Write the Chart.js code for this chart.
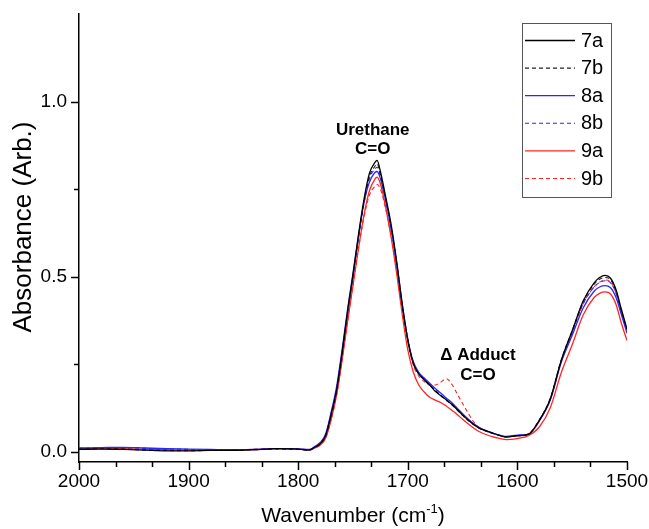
<!DOCTYPE html>
<html>
<head>
<meta charset="utf-8">
<script src="https://cdn.jsdelivr.net/npm/chart.js@4.4.0/dist/chart.umd.min.js"></script>
<style>
  html, body { margin: 0; padding: 0; background: #fff; }
  #wrap { width: 649px; height: 529px; position: relative; }
</style>
</head>
<body>
<div id="wrap"><canvas id="canvas"></canvas></div>
<script>
// spectra (absorbance vs wavenumber)
var wavenumbers = [2000,1980,1960,1940,1920,1900,1880,1860,1840,1820,1800,1790,
  1785,1780,1775,1770,1765,1760,1755,1750,1745,1740,1735,1730,1728,1725,1720,1715,1710,1705,1700,1695,1690,1685,1680,1675,1670,1665,1660,1655,1650,1645,1640,1635,1630,
  1620,1610,1600,1590,1580,1570,1560,1550,1540,1530,
  1525,1520,1515,1510,1505,1500];

var s7a = [0.006,0.007,0.006,0.004,0.002,0.002,0.003,0.003,0.005,0.008,0.007,0.004,
  0.012,0.022,0.045,0.105,0.175,0.28,0.40,0.505,0.62,0.72,0.795,0.826,0.832,0.80,0.725,0.645,0.54,0.42,0.32,0.252,0.222,0.205,0.19,0.172,0.16,0.148,0.135,0.12,0.104,0.09,0.077,0.067,0.061,
  0.05,0.041,0.045,0.049,0.089,0.15,0.26,0.345,0.43,0.482,
  0.497,0.503,0.495,0.462,0.405,0.35];
var s7b = [0.007,0.008,0.007,0.004,0.003,0.002,0.003,0.004,0.005,0.007,0.006,0.004,
  0.011,0.021,0.044,0.10,0.17,0.275,0.395,0.50,0.61,0.71,0.785,0.815,0.822,0.79,0.717,0.637,0.532,0.415,0.317,0.252,0.222,0.205,0.19,0.175,0.16,0.147,0.134,0.119,0.103,0.089,0.077,0.067,0.06,
  0.049,0.042,0.045,0.05,0.09,0.152,0.262,0.345,0.428,0.478,
  0.492,0.497,0.49,0.458,0.4,0.348];
var s8a = [0.01,0.011,0.012,0.01,0.008,0.007,0.006,0.005,0.006,0.008,0.007,0.006,
  0.014,0.026,0.05,0.112,0.185,0.29,0.405,0.51,0.615,0.71,0.77,0.797,0.80,0.78,0.715,0.633,0.532,0.418,0.32,0.257,0.226,0.21,0.195,0.18,0.167,0.153,0.14,0.124,0.108,0.093,0.08,0.069,0.061,
  0.05,0.043,0.047,0.049,0.087,0.147,0.255,0.332,0.41,0.458,
  0.47,0.474,0.468,0.44,0.39,0.338];
var s8b = [0.009,0.01,0.011,0.009,0.007,0.006,0.005,0.005,0.006,0.008,0.007,0.005,
  0.013,0.025,0.048,0.108,0.18,0.285,0.40,0.505,0.612,0.712,0.78,0.807,0.812,0.788,0.717,0.636,0.535,0.42,0.32,0.254,0.222,0.205,0.189,0.176,0.16,0.148,0.135,0.12,0.104,0.09,0.078,0.068,0.06,
  0.05,0.042,0.046,0.05,0.09,0.15,0.258,0.34,0.422,0.47,
  0.483,0.488,0.482,0.452,0.396,0.345];
var s9a = [0.008,0.009,0.008,0.007,0.005,0.004,0.004,0.004,0.006,0.008,0.007,0.005,
  0.01,0.018,0.038,0.09,0.16,0.26,0.37,0.475,0.58,0.675,0.745,0.778,0.784,0.765,0.695,0.608,0.505,0.39,0.29,0.227,0.19,0.17,0.155,0.147,0.14,0.13,0.118,0.106,0.092,0.079,0.067,0.057,0.05,
  0.04,0.034,0.037,0.045,0.07,0.125,0.225,0.305,0.39,0.44,
  0.452,0.456,0.45,0.42,0.365,0.317];
var s9b = [0.008,0.009,0.009,0.006,0.004,0.003,0.003,0.004,0.006,0.008,0.006,0.004,
  0.011,0.02,0.04,0.092,0.162,0.262,0.372,0.476,0.578,0.67,0.732,0.758,0.763,0.75,0.69,0.612,0.515,0.405,0.31,0.247,0.215,0.2,0.19,0.19,0.198,0.208,0.193,0.165,0.137,0.11,0.085,0.068,0.06,
  0.049,0.042,0.045,0.05,0.09,0.15,0.258,0.34,0.422,0.47,
  0.484,0.49,0.484,0.452,0.398,0.346];

var seriesNames = ['7a','7b','8a','8b','9a','9b'];
var xMajorTicks = [2000,1900,1800,1700,1600,1500];
var yMajorTicks = [0.0,0.5,1.0];
var yMinorTicks = [0.25,0.75];

var BLACK = '#000000';
var BLUE = 'rgb(40,40,255)';
var RED = 'rgb(255,35,35)';

function pts(ys) {
  return ys.map(function (y, i) { return { x: wavenumbers[i], y: y }; });
}

function ds(label, ys, color, dashed) {
  return {
    label: label,
    data: pts(ys),
    borderColor: color,
    backgroundColor: color,
    borderWidth: dashed ? 1.1 : 1.3,
    borderDash: dashed ? [4, 3] : [],
    pointRadius: 0,
    tension: 0.4,
    cubicInterpolationMode: 'monotone',
    fill: false
  };
}

// minor x ticks: two between each labelled one
var xMinorTicks = [];
for (var i = 0; i < xMajorTicks.length - 1; i++) {
  var step = (xMajorTicks[i] - xMajorTicks[i + 1]) / 3;
  xMinorTicks.push(xMajorTicks[i] - step, xMajorTicks[i] - 2 * step);
}

// keep the plot box fixed: no extra room for overhanging tick labels
function fixBox(size) {
  return function (s) {
    if (s.isHorizontal()) s.height = size; else s.width = size;
    s.paddingLeft = s.paddingRight = s.paddingTop = s.paddingBottom = 0;
  };
}

// draws tick marks, axis titles, annotations and the boxed legend
var extras = {
  id: 'extras',
  afterDraw: function (chart) {
    var ctx = chart.ctx;
    var xs = chart.scales.x, ys = chart.scales.y;
    var area = chart.chartArea;
    ctx.save();
    ctx.strokeStyle = '#000';
    ctx.lineWidth = 1.5;

    // x ticks
    xMajorTicks.forEach(function (v) {
      var px = Math.round(xs.getPixelForValue(v)) + 0.5;
      ctx.beginPath(); ctx.moveTo(px, area.bottom); ctx.lineTo(px, area.bottom + 8); ctx.stroke();
    });
    xMinorTicks.forEach(function (v) {
      var px = Math.round(xs.getPixelForValue(v)) + 0.5;
      ctx.beginPath(); ctx.moveTo(px, area.bottom); ctx.lineTo(px, area.bottom + 5); ctx.stroke();
    });
    // y ticks
    yMajorTicks.forEach(function (v) {
      var py = Math.round(ys.getPixelForValue(v)) + 0.5;
      ctx.beginPath(); ctx.moveTo(area.left, py); ctx.lineTo(area.left - 8, py); ctx.stroke();
    });
    yMinorTicks.forEach(function (v) {
      var py = Math.round(ys.getPixelForValue(v)) + 0.5;
      ctx.beginPath(); ctx.moveTo(area.left, py); ctx.lineTo(area.left - 5, py); ctx.stroke();
    });

    ctx.fillStyle = '#000';
    // x title with superscript
    var f = '"Liberation Sans", Arial, sans-serif';
    ctx.textBaseline = 'alphabetic';
    var t1 = 'Wavenumber (cm', t2 = '-1', t3 = ')';
    ctx.font = '21px ' + f;
    var w1 = ctx.measureText(t1).width, w3 = ctx.measureText(t3).width;
    ctx.font = '13px ' + f;
    var w2 = ctx.measureText(t2).width;
    var x0 = (area.left + area.right) / 2 - (w1 + w2 + w3) / 2;
    var by = 522;
    ctx.textAlign = 'left';
    ctx.font = '21px ' + f;
    ctx.fillText(t1, x0, by);
    ctx.font = '13px ' + f;
    ctx.fillText(t2, x0 + w1, by - 9);
    ctx.font = '21px ' + f;
    ctx.fillText(t3, x0 + w1 + w2, by);

    // y title
    ctx.save();
    ctx.translate(31, 227);
    ctx.rotate(-Math.PI / 2);
    ctx.textAlign = 'center';
    ctx.font = '26px ' + f;
    ctx.fillText('Absorbance (Arb.)', 0, 0);
    ctx.restore();

    // annotations
    ctx.textAlign = 'center';
    ctx.textBaseline = 'middle';
    ctx.font = 'bold 17px ' + f;
    chart.options.plugins.extras.notes.forEach(function (n) {
      ctx.fillText(n.text, xs.getPixelForValue(n.x), ys.getPixelForValue(n.y));
    });

    // legend box
    var lg = chart.options.plugins.extras.legend;
    ctx.lineWidth = 1;
    ctx.strokeStyle = '#555';
    ctx.strokeRect(lg.left + 0.5, lg.top + 0.5, lg.width, lg.height);
    ctx.textAlign = 'left';
    ctx.font = '20px ' + f;
    chart.data.datasets.forEach(function (d, k) {
      var yy = lg.top + lg.first + k * lg.gap;
      ctx.save();
      ctx.strokeStyle = d.borderColor;
      ctx.lineWidth = d.borderWidth;
      ctx.setLineDash(d.borderDash);
      ctx.beginPath();
      ctx.moveTo(lg.left + 3, yy + 0.5);
      ctx.lineTo(lg.left + 53, yy + 0.5);
      ctx.stroke();
      ctx.restore();
      ctx.fillStyle = '#000';
      ctx.fillText(d.label, lg.left + 59, yy + 1);
    });
    ctx.restore();
  }
};

var ctx = document.getElementById('canvas').getContext('2d');
var chart = new Chart(ctx, {
  type: 'line',
  data: {
    datasets: [
      ds(seriesNames[0], s7a, BLACK, false),
      ds(seriesNames[1], s7b, '#222', true),
      ds(seriesNames[2], s8a, BLUE, false),
      ds(seriesNames[3], s8b, BLUE, true),
      ds(seriesNames[4], s9a, RED, false),
      ds(seriesNames[5], s9b, RED, true)
    ]
  },
  options: {
    responsive: true,
    maintainAspectRatio: false,
    animation: false,
    layout: { padding: { top: 14, right: 22, left: 0, bottom: 0 } },
    plugins: {
      legend: { display: false },
      tooltip: { enabled: false },
      extras: {
        notes: [
          { text: 'Urethane', x: 1732, y: 0.918 },
          { text: 'C=O', x: 1732, y: 0.862 },
          { text: '\u0394 Adduct', x: 1636, y: 0.274 },
          { text: 'C=O', x: 1636, y: 0.217 }
        ],
        legend: { left: 522, top: 23, width: 89, height: 174, first: 17, gap: 27.6 }
      }
    },
    scales: {
      x: {
        type: 'linear',
        reverse: true,
        min: 1500,
        max: 2000,
        afterBuildTicks: function (s) { s.ticks = xMajorTicks.map(function (v) { return { value: v }; }); },
        afterFit: fixBox(67),
        ticks: {
          autoSkip: false, maxRotation: 0, padding: 8, color: '#000',
          font: { size: 19, family: '"Liberation Sans", Arial, sans-serif' },
          callback: function (v) { return String(v); }
        },
        grid: { drawOnChartArea: false, drawTicks: false },
        border: { color: '#000', width: 1.5 }
      },
      y: {
        type: 'linear',
        min: -0.03,
        max: 1.25,
        afterBuildTicks: function (s) { s.ticks = yMajorTicks.map(function (v) { return { value: v }; }); },
        afterFit: fixBox(79),
        ticks: {
          padding: 12, color: '#000',
          font: { size: 19, family: '"Liberation Sans", Arial, sans-serif' },
          callback: function (v) { return v.toFixed(1); }
        },
        grid: { drawOnChartArea: false, drawTicks: false },
        border: { color: '#000', width: 1.5 }
      }
    }
  },
  plugins: [extras]
});
</script>
</body>
</html>
